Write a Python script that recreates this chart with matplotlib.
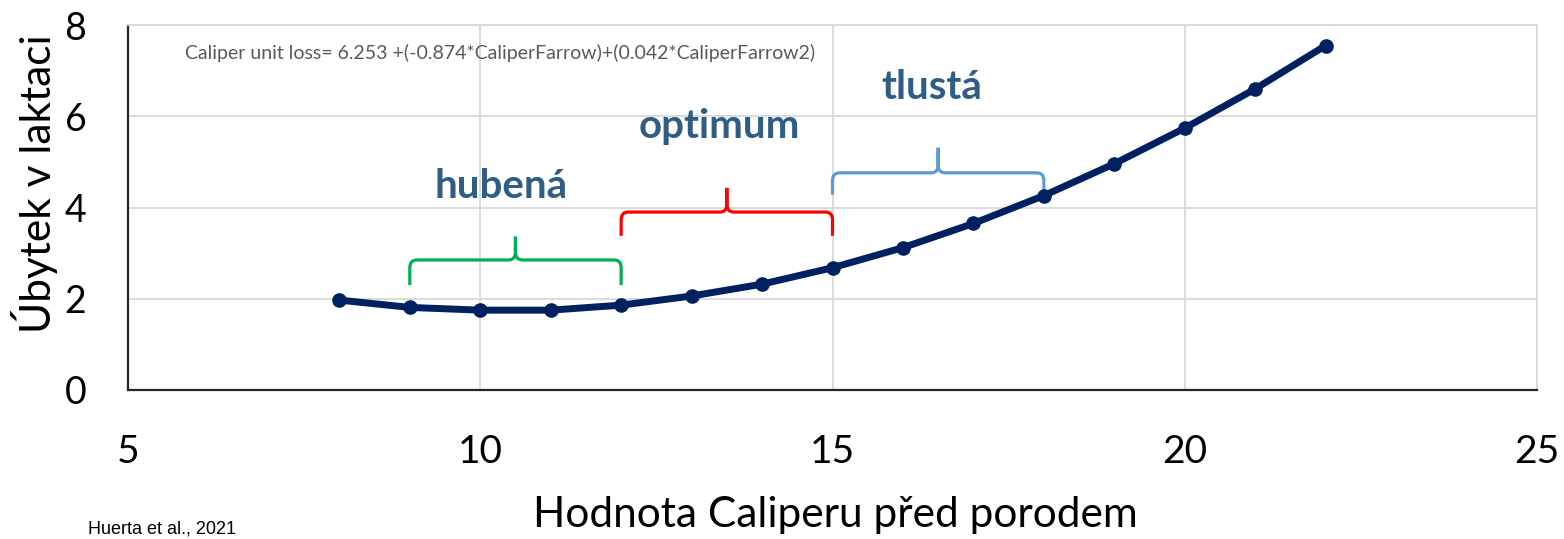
import numpy as np
import matplotlib.pyplot as plt
from matplotlib.path import Path
from matplotlib.patches import PathPatch

# values
caliper = [8, 9, 10, 11, 12, 13, 14, 15, 16, 17, 18, 19, 20, 21, 22]
loss = [1.97, 1.81, 1.75, 1.75, 1.86, 2.06, 2.32, 2.68, 3.12, 3.65,
        4.26, 4.96, 5.74, 6.60, 7.55]

x_ticks = [5, 10, 15, 20, 25]
y_ticks = [0, 2, 4, 6, 8]

# groups: label, x range, brace tip / bar / peak heights, colour
group_names = ['hubená', 'optimum', 'tlustá']
group_ranges = [(9, 12), (12, 15), (15, 18)]
brace_levels = [(2.30, 2.85, 3.36), (3.38, 3.90, 4.43), (4.28, 4.76, 5.31)]
brace_colors = ['#00B050', '#FF0000', '#5B9BD5']
label_pos = [(10.29, 4.45), (13.4, 5.77), (16.41, 6.62)]

equation = 'Caliper unit loss= 6.253 +(-0.874*CaliperFarrow)+(0.042*CaliperFarrow2)'

plt.rcParams['font.family'] = ['Lato', 'DejaVu Sans']


def brace(ax, x0, x1, y_tip, y_bar, y_peak, color):
    xm = (x0 + x1) / 2
    rx, ry = 0.1, 0.17
    verts = [(x0, y_tip), (x0, y_bar - ry), (x0, y_bar), (x0 + rx, y_bar),
             (xm - rx, y_bar), (xm, y_bar), (xm, y_bar + ry), (xm, y_peak),
             (x1, y_tip), (x1, y_bar - ry), (x1, y_bar), (x1 - rx, y_bar),
             (xm + rx, y_bar), (xm, y_bar), (xm, y_bar + ry), (xm, y_peak)]
    codes = [Path.MOVETO, Path.LINETO, Path.CURVE3, Path.CURVE3,
             Path.LINETO, Path.CURVE3, Path.CURVE3, Path.LINETO] * 2
    ax.add_patch(PathPatch(Path(verts, codes), fill=False, edgecolor=color,
                           lw=2.3, zorder=3, capstyle='butt'))


fig = plt.figure(figsize=(15.64, 5.39), dpi=100)
ax = fig.add_axes([128 / 1564, 1 - 390 / 539, (1537 - 128) / 1564, (390 - 25) / 539])

ax.plot(caliper, loss, color='#002060', lw=5, marker='o', ms=9.5,
        zorder=4, solid_capstyle='round')

for name, (x0, x1), (yt, yb, yp), c, (lx, ly) in zip(group_names, group_ranges,
                                                    brace_levels, brace_colors, label_pos):
    brace(ax, x0, x1, yt, yb, yp, c)
    ax.text(lx, ly, name, color='#2F5D85', fontsize=29, fontweight='bold',
            ha='center', va='center')

ax.set_xlim(5, 25)
ax.set_ylim(0, 8)
ax.set_xticks(x_ticks)
ax.set_yticks(y_ticks)
ax.grid(color='#d9d9d9', lw=1.3)
ax.set_axisbelow(True)
ax.tick_params(length=0, labelsize=27)
ax.tick_params(axis='x', pad=32, labelsize=28)
ax.tick_params(axis='y', pad=30)
for side in ['top', 'right']:
    ax.spines[side].set_color('#d9d9d9')
    ax.spines[side].set_linewidth(1.3)
for side in ['bottom', 'left']:
    ax.spines[side].set_color('#262626')
    ax.spines[side].set_linewidth(1.6)

fig.text(185 / 1564, 1 - 53 / 539, equation, fontsize=14, color='#595959',
         va='center', ha='left')

fig.text(835 / 1564, 1 - 515 / 539, 'Hodnota Caliperu před porodem',
         fontsize=30.5, ha='center', va='center')
fig.text(35 / 1564, 1 - 184 / 539, 'Úbytek v laktaci', fontsize=30.5,
         rotation=90, ha='center', va='center')
fig.text(88 / 1564, 1 / 539, 'Huerta et al., 2021', fontsize=13,
         family='Liberation Sans', ha='left', va='bottom')

fig.savefig('out.png', dpi=100)
